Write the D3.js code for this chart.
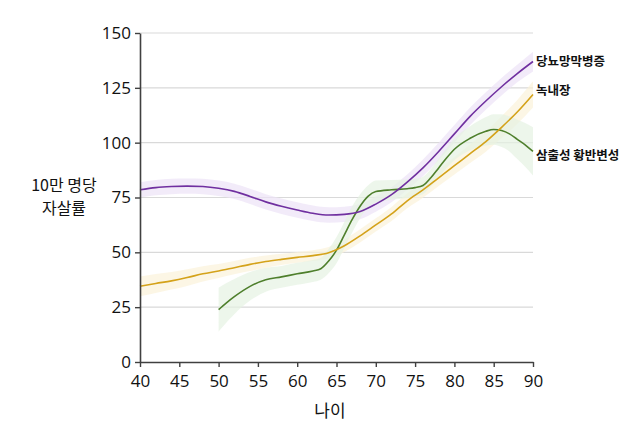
<!DOCTYPE html>
<html>
<head>
<meta charset="utf-8">
<script src="https://cdn.jsdelivr.net/npm/d3@7"></script>
<style>
  body { margin: 0; background: #fff; }
  text { font-family: "Open Sans", "Noto Sans CJK KR", sans-serif; }
</style>
</head>
<body>
<div id="wrapper"></div>
<script>
// data
const yTicks = [0, 25, 50, 75, 100, 125, 150];
const xTicks = [40, 45, 50, 55, 60, 65, 70, 75, 80, 85, 90];

const drAges = [40, 42, 44, 46, 48, 50, 52, 54, 56, 58, 60, 62, 64, 66, 68, 70, 72, 74, 76, 78, 80, 82, 84, 86, 88, 90];
const drValues = [78.5, 79.5, 80, 80.2, 80, 79.2, 77.8, 75.5, 73, 71, 69.3, 67.8, 67, 67.3, 68.6, 72, 76.3, 82, 88.5, 96, 104, 112, 119, 125.5, 131.5, 137];
const drBand = [3.5, 3.5, 3.5, 3.5, 3.5, 3.5, 3.5, 3.5, 3.5, 3.5, 3.5, 3.5, 3.5, 3.5, 3.5, 3.5, 3.5, 3.5, 3.8, 4, 4, 4, 4, 4, 4, 4.5];

const glAges = [40, 42, 44, 46, 48, 50, 52, 54, 56, 58, 60, 62, 64, 66, 68, 70, 72, 74, 76, 78, 80, 82, 84, 86, 88, 90];
const glValues = [34.5, 35.8, 37, 38.5, 40.2, 41.5, 43, 44.5, 45.8, 46.8, 47.7, 48.5, 49.8, 53, 57.5, 62.5, 67.5, 73.5, 78.5, 84, 89.5, 95, 100.5, 107, 114, 122];
const glBand = [4.5, 4.3, 4, 3.8, 3.5, 3.2, 3, 3, 2.8, 2.6, 2.5, 2.5, 2.6, 2.8, 3, 3, 3.2, 3.4, 3.6, 3.8, 4, 4.3, 4.6, 5, 5.5, 6];

const amdAges = [50, 51, 52, 54, 56, 58, 60, 62, 63, 64, 65, 66, 67, 68, 69, 70, 72, 74, 75, 76, 77, 78, 79, 80, 82, 84, 85, 86, 87, 88, 89, 90];
const amdValues = [23.9, 27, 29.8, 34.5, 37.5, 38.8, 40.2, 41.5, 42.5, 46, 51, 58, 65, 71, 75.5, 77.7, 78.5, 79, 79.5, 80.5, 84, 88.5, 93, 97, 102, 105.2, 106, 105.5, 104, 101.5, 99, 96];
const amdBand = [10, 9, 8, 6.5, 5.5, 5, 5, 5, 5, 5.5, 6, 6, 6, 5.5, 5, 5, 4.5, 4.2, 4, 4, 4, 4.2, 4.5, 5, 5.5, 6.5, 7, 7.5, 8, 9, 10, 11];

const seriesNames = ["당뇨망막병증", "녹내장", "삼출성 황반변성"];
const labelValues = [137, 124, 94];

const series = [
  { name: seriesNames[0], ages: drAges, values: drValues, band: drBand, color: "#7030a0", fill: "#ece3f6" },
  { name: seriesNames[1], ages: glAges, values: glValues, band: glBand, color: "#d4a21a", fill: "#fbf2da" },
  { name: seriesNames[2], ages: amdAges, values: amdValues, band: amdBand, color: "#4e7f2c", fill: "#e6f2e3" },
];

let dimensions = {
  width: 640,
  height: 425,
  margin: { top: 33, right: 107, bottom: 63, left: 140 },
};
dimensions.boundsWidth = dimensions.width - dimensions.margin.left - dimensions.margin.right;
dimensions.boundsHeight = dimensions.height - dimensions.margin.top - dimensions.margin.bottom;

const svg = d3.select("#wrapper").append("svg")
  .attr("width", dimensions.width)
  .attr("height", dimensions.height);

const bounds = svg.append("g")
  .attr("transform", `translate(${dimensions.margin.left},${dimensions.margin.top})`);

const xScale = d3.scaleLinear().domain([40, 90]).range([0, dimensions.boundsWidth]);
const yScale = d3.scaleLinear().domain([0, 150]).range([dimensions.boundsHeight, 0]);

// grid
bounds.append("g").selectAll("line")
  .data(yTicks.filter(d => d > 0))
  .join("line")
  .attr("x1", 0)
  .attr("x2", dimensions.boundsWidth)
  .attr("y1", d => yScale(d))
  .attr("y2", d => yScale(d))
  .attr("stroke", "#d9d9d9")
  .attr("stroke-width", 1.2);

// bands
const area = d3.area()
  .x((d) => xScale(d.age))
  .y0((d) => yScale(d.v - d.b))
  .y1((d) => yScale(d.v + d.b))
  .curve(d3.curveMonotoneX);

const line = d3.line()
  .x((d) => xScale(d.age))
  .y((d) => yScale(d.v))
  .curve(d3.curveMonotoneX);

series.forEach((s) => {
  s.points = s.ages.map((a, i) => ({ age: a, v: s.values[i], b: s.band[i] }));
});

series.forEach((s) => {
  bounds.append("path")
    .attr("d", area(s.points))
    .attr("fill", s.fill)
    .attr("opacity", 0.7);
});

series.slice().reverse().forEach((s) => {
  bounds.append("path")
    .attr("d", line(s.points))
    .attr("fill", "none")
    .attr("stroke", s.color)
    .attr("stroke-width", 1.6);
});

// axes
const yAxis = bounds.append("g")
  .call(d3.axisLeft(yScale).tickValues(yTicks).tickSize(5).tickSizeOuter(0));
const xAxis = bounds.append("g")
  .attr("transform", `translate(0,${dimensions.boundsHeight})`)
  .call(d3.axisBottom(xScale).tickValues(xTicks).tickSize(5).tickSizeOuter(0));

[xAxis, yAxis].forEach((ax) => {
  ax.select(".domain").attr("stroke", "#404040").attr("stroke-width", 1.6);
  ax.selectAll(".tick line").attr("stroke", "#404040").attr("stroke-width", 1.4);
  ax.selectAll(".tick text")
    .attr("fill", "#111")
    .style("font-size", "17px")
    .style("font-family", "'Open Sans', sans-serif");
});
yAxis.selectAll(".tick text").attr("x", -9);
xAxis.selectAll(".tick text").attr("y", 13);

// series labels
series.forEach((s, i) => {
  svg.append("text")
    .attr("x", 536)
    .attr("y", dimensions.margin.top + yScale(labelValues[i]) + 4.5)
    .attr("font-size", 12.5)
    .attr("font-weight", "bold")
    .style("font-family", "'Noto Sans CJK KR', sans-serif")
    .attr("fill", "#111")
    .text(s.name);
});

// axis titles
const yTitle = svg.append("text")
  .attr("text-anchor", "middle")
  .attr("font-size", 16)
  .style("font-family", "'Noto Sans CJK KR', sans-serif")
  .attr("fill", "#111");
yTitle.append("tspan").attr("x", 64).attr("y", 191).text("10만 명당");
yTitle.append("tspan").attr("x", 64).attr("y", 214).text("자살률");

svg.append("text")
  .attr("x", 330)
  .attr("y", 417)
  .attr("text-anchor", "middle")
  .attr("font-size", 17)
  .style("font-family", "'Noto Sans CJK KR', sans-serif")
  .attr("fill", "#111")
  .text("나이");
</script>
</body>
</html>
